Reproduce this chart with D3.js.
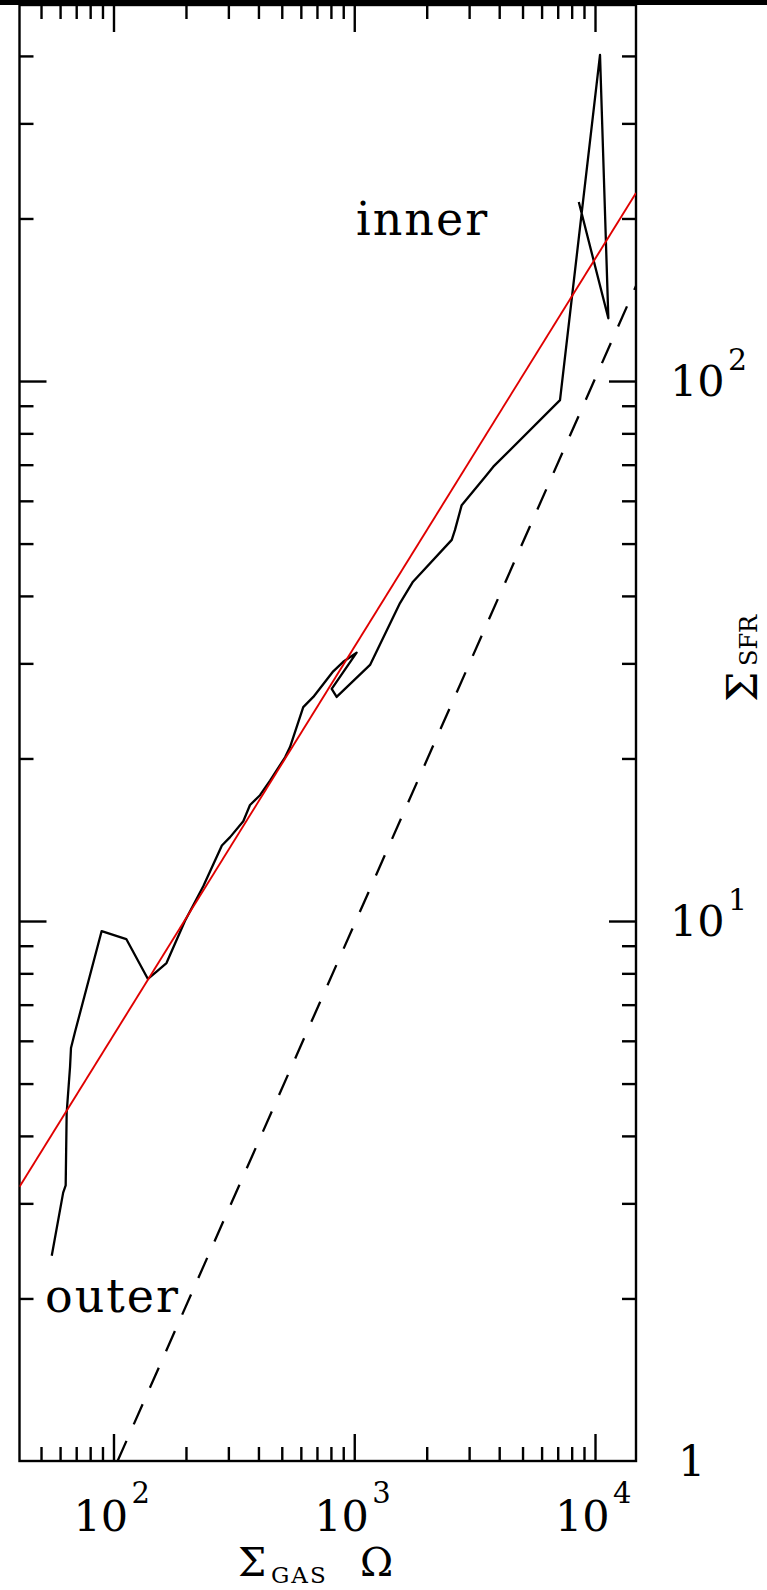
<!DOCTYPE html>
<html><head><meta charset="utf-8">
<script src="https://cdn.jsdelivr.net/npm/d3@7"></script>
<style>
html,body{margin:0;padding:0;background:#fff;}
svg{display:block;}
text{font-family:"DejaVu Serif",serif;fill:#000;}
</style>
</head><body>
<svg id="c" width="767" height="1590"></svg>
<script>
// ---- data ----
const gasOmega = [55.4, 61.8, 63.3, 63.9, 66.0, 66.6, 69.2, 89.3, 113, 139, 151, 166, 198, 236, 282, 305, 346, 369, 406, 447, 516, 541, 614, 676, 818, 900, 1023, 806, 845, 1163, 1549, 1754, 2541, 2621, 2794, 3548, 3781, 7155, 10490, 11360, 8563];
const sigmaSFR = [2.40, 3.14, 3.24, 4.41, 5.37, 5.82, 6.23, 9.58, 9.26, 7.81, 8.06, 8.36, 10.0, 11.6, 13.8, 14.3, 15.3, 16.4, 17.1, 18.2, 20.1, 21.0, 24.9, 26.0, 29.0, 30.2, 31.4, 26.9, 26.0, 29.8, 38.8, 42.5, 50.8, 53.0, 58.9, 67.0, 69.4, 92.2, 401.6, 130.7, 214.5];
const fitLineX = [40.7, 14800];
const fitLineY = [3.22, 223];
const unitSlopeX = [104, 14800];
const unitSlopeY = [1, 150];
const xDomain = [40.7, 14800];
const yDomain = [1, 497];
const xMajorTicks = [100, 1000, 10000];
const xMinorTicks = [50, 60, 70, 80, 90, 200, 300, 400, 500, 600, 700, 800, 900, 2000, 3000, 4000, 5000, 6000, 7000, 8000, 9000];
const yMajorTicks = [10, 100];
const yMinorTicks = [2, 3, 4, 5, 6, 7, 8, 9, 20, 30, 40, 50, 60, 70, 80, 90, 200, 300, 400];
const xTickValues = [100, 1000, 10000];
const xTickExponents = ["2", "3", "4"];
const yTickValues = [1, 10, 100];
const yTickBases = ["1", "10", "10"];
const yTickExponents = ["", "1", "2"];
const regionLabels = ["inner", "outer"];

// ---- layout ----
const L = 19.5, R = 636, T = 5, B = 1461;
const svg = d3.select("#c");
const x = d3.scaleLog().domain(xDomain).range([L, R]);
const y = d3.scaleLog().domain(yDomain).range([B, T]);

svg.append("rect").attr("x", 0).attr("y", 0).attr("width", 767).attr("height", 5).attr("fill", "#000");

svg.append("defs").append("clipPath").attr("id", "clip")
  .append("rect").attr("x", L).attr("y", T).attr("width", R - L).attr("height", B - T);

function addAxis(gen, tr, vals, size) {
  svg.append("g").attr("transform", tr)
    .call(gen.tickValues(vals).tickSizeInner(size).tickSizeOuter(0).tickFormat(""))
    .call(g => g.select(".domain").remove())
    .selectAll("line").attr("stroke", "#000").attr("stroke-width", 2.4);
}
addAxis(d3.axisBottom(x), `translate(0,${B})`, xMajorTicks, -27);
addAxis(d3.axisBottom(x), `translate(0,${B})`, xMinorTicks, -14);
addAxis(d3.axisTop(x), `translate(0,${T})`, xMajorTicks, -27);
addAxis(d3.axisTop(x), `translate(0,${T})`, xMinorTicks, -14);
addAxis(d3.axisLeft(y), `translate(${L},0)`, yMajorTicks, -27);
addAxis(d3.axisLeft(y), `translate(${L},0)`, yMinorTicks, -14);
addAxis(d3.axisRight(y), `translate(${R},0)`, yMajorTicks, -27);
addAxis(d3.axisRight(y), `translate(${R},0)`, yMinorTicks, -14);

svg.append("rect").attr("x", L).attr("y", T).attr("width", R - L).attr("height", B - T)
  .attr("fill", "none").attr("stroke", "#000").attr("stroke-width", 2.4);

const line = d3.line().x(d => x(d[0])).y(d => y(d[1]));
const plot = svg.append("g").attr("clip-path", "url(#clip)");

plot.append("path").datum(d3.zip(unitSlopeX, unitSlopeY)).attr("d", line)
  .attr("fill", "none").attr("stroke", "#000").attr("stroke-width", 2.3).attr("stroke-dasharray", "22,18");
plot.append("path").datum(d3.zip(gasOmega, sigmaSFR)).attr("d", line)
  .attr("fill", "none").attr("stroke", "#000").attr("stroke-width", 2.3).attr("stroke-linejoin", "round");
plot.append("path").datum(d3.zip(fitLineX, fitLineY)).attr("d", line)
  .attr("fill", "none").attr("stroke", "#e00000").attr("stroke-width", 1.9);

// x tick labels
xTickValues.forEach((v, i) => {
  const cx = x(v);
  svg.append("text").attr("x", cx - 40).attr("y", 1531).attr("font-size", 43).text("10");
  svg.append("text").attr("x", cx + 18).attr("y", 1503).attr("font-size", 29).text(xTickExponents[i]);
});
// y tick labels (right)
yTickValues.forEach((v, i) => {
  const cy = y(v);
  const bx = yTickExponents[i] === "" ? 678 : 670;
  svg.append("text").attr("x", bx).attr("y", cy + 15).attr("font-size", 43).text(yTickBases[i]);
  if (yTickExponents[i]) svg.append("text").attr("x", 728).attr("y", cy - 11).attr("font-size", 30).text(yTickExponents[i]);
});

// region labels
svg.append("text").attr("x", 356).attr("y", 235).attr("font-size", 46).attr("letter-spacing", 2).text(regionLabels[0]);
svg.append("text").attr("x", 45).attr("y", 1312).attr("font-size", 46).attr("letter-spacing", 2).text(regionLabels[1]);

// x axis title
svg.append("text").attr("x", 238).attr("y", 1576).attr("font-size", 40).text("Σ");
svg.append("text").attr("x", 271).attr("y", 1583).attr("font-size", 23).attr("letter-spacing", 2).text("GAS");
svg.append("text").attr("x", 360).attr("y", 1576).attr("font-size", 40).text("Ω");

// y axis title (rotated, right)
const yt = svg.append("g").attr("transform", "translate(757,702) rotate(-90)");
yt.append("text").attr("x", 0).attr("y", 0).attr("font-size", 43).text("Σ");
yt.append("text").attr("x", 36).attr("y", 0).attr("font-size", 24).text("SFR");
</script>
</body></html>
